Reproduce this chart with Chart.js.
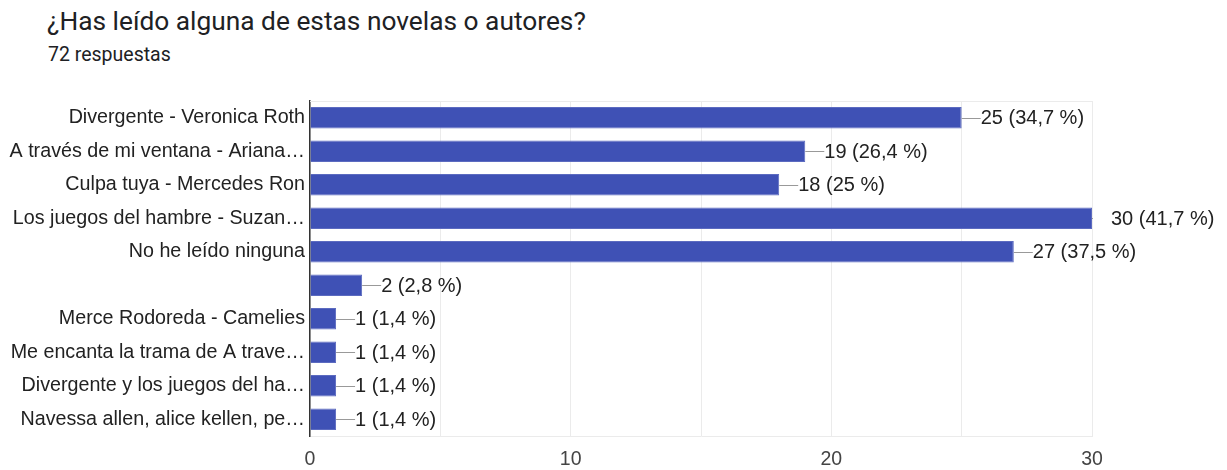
<!DOCTYPE html>
<html>
<head>
<meta charset="utf-8">
<script src="https://cdn.jsdelivr.net/npm/chart.js@4.4.1/dist/chart.umd.min.js"></script>
<style>
  html, body { margin: 0; padding: 0; background: #fff; }
  #wrap { position: relative; width: 1227px; height: 470px; overflow: hidden; }
  #title { position: absolute; left: 47px; top: 6px; font-family: Roboto, "Noto Sans", sans-serif; font-size: 26.3px; color: #202124; white-space: nowrap; }
  #sub { position: absolute; left: 48px; top: 43px; font-family: Roboto, "Noto Sans", sans-serif; font-size: 19.5px; color: #202124; white-space: nowrap; }
  canvas { position: absolute; left: 0; top: 0; }
</style>
</head>
<body>
<div id="wrap">
  <div id="title">¿Has leído alguna de estas novelas o autores?</div>
  <div id="sub">72 respuestas</div>
  <canvas id="c" width="1227" height="470"></canvas>
</div>
<script>
const categories = [
  "Divergente - Veronica Roth",
  "A través de mi ventana - Ariana…",
  "Culpa tuya - Mercedes Ron",
  "Los juegos del hambre - Suzan…",
  "No he leído ninguna",
  "",
  "Merce Rodoreda - Camelies",
  "Me encanta la trama de A trave…",
  "Divergente y los juegos del ha…",
  "Navessa allen, alice kellen, pe…"
];
const counts = [25, 19, 18, 30, 27, 2, 1, 1, 1, 1];
const percents = ["34,7", "26,4", "25", "41,7", "37,5", "2,8", "1,4", "1,4", "1,4", "1,4"];
const xTicks = [0, 10, 20, 30];

const FONT = '"Liberation Sans", Arial, sans-serif';

const frame = {
  id: 'frame',
  beforeDatasetsDraw(chart) {
    const { ctx, chartArea: a } = chart;
    ctx.save();
    ctx.strokeStyle = '#ebebeb';
    ctx.lineWidth = 1;
    ctx.beginPath();
    ctx.moveTo(a.left, a.top + 0.5);
    ctx.lineTo(a.right, a.top + 0.5);
    ctx.stroke();
    ctx.restore();
  }
};

const valueLabels = {
  id: 'valueLabels',
  afterDatasetsDraw(chart) {
    const { ctx, chartArea: a } = chart;
    const meta = chart.getDatasetMeta(0);
    ctx.save();
    meta.data.forEach((bar, i) => {
      const x = bar.x, y = bar.y;
      ctx.save();
      ctx.beginPath();
      ctx.rect(a.left, a.top, a.right - a.left + 1, a.bottom - a.top);
      ctx.clip();
      ctx.strokeStyle = '#999999';
      ctx.lineWidth = 1;
      ctx.beginPath();
      ctx.moveTo(x, Math.round(y) + 0.5);
      ctx.lineTo(x + 19, Math.round(y) + 0.5);
      ctx.stroke();
      ctx.restore();
      ctx.fillStyle = '#222222';
      ctx.font = '20px ' + FONT;
      ctx.textAlign = 'left';
      ctx.textBaseline = 'middle';
      ctx.fillText(counts[i] + ' (' + percents[i] + ' %)', x + 19, y + 1);
    });
    ctx.restore();
  }
};

new Chart(document.getElementById('c'), {
  type: 'bar',
  data: {
    labels: categories,
    datasets: [{
      data: counts,
      backgroundColor: '#3f51b5',
      borderColor: '#5c6bc0',
      borderWidth: 1,
      barPercentage: 0.645,
      categoryPercentage: 1.0
    }]
  },
  options: {
    indexAxis: 'y',
    responsive: false,
    animation: false,
    devicePixelRatio: 1,
    layout: { padding: { left: 0, right: 135, top: 101, bottom: 0 } },
    plugins: { legend: { display: false }, tooltip: { enabled: false }, title: { display: false } },
    scales: {
      x: {
        min: 0, max: 30,
        afterFit(scale) { scale.height = 34; },
        afterBuildTicks(scale) {
          const t = [];
          for (let v = 0; v <= 30; v += 5) t.push({ value: v });
          scale.ticks = t;
        },
        ticks: {
          callback: (v) => xTicks.includes(v) ? String(v) : '',
          font: { size: 19.5, family: FONT },
          color: '#444444',
          padding: 12,
          maxRotation: 0,
          autoSkip: false
        },
        grid: { color: '#ebebeb', drawTicks: false, lineWidth: 1 },
        border: { color: '#ebebeb', width: 1 }
      },
      y: {
        afterFit(scale) { scale.width = 310; },
        ticks: {
          font: { size: 19.7, family: FONT },
          color: '#222222',
          padding: 5,
          autoSkip: false
        },
        grid: { display: false, drawTicks: false },
        border: { color: '#333333', width: 1.5 }
      }
    }
  },
  plugins: [frame, valueLabels]
});
</script>
</body>
</html>
